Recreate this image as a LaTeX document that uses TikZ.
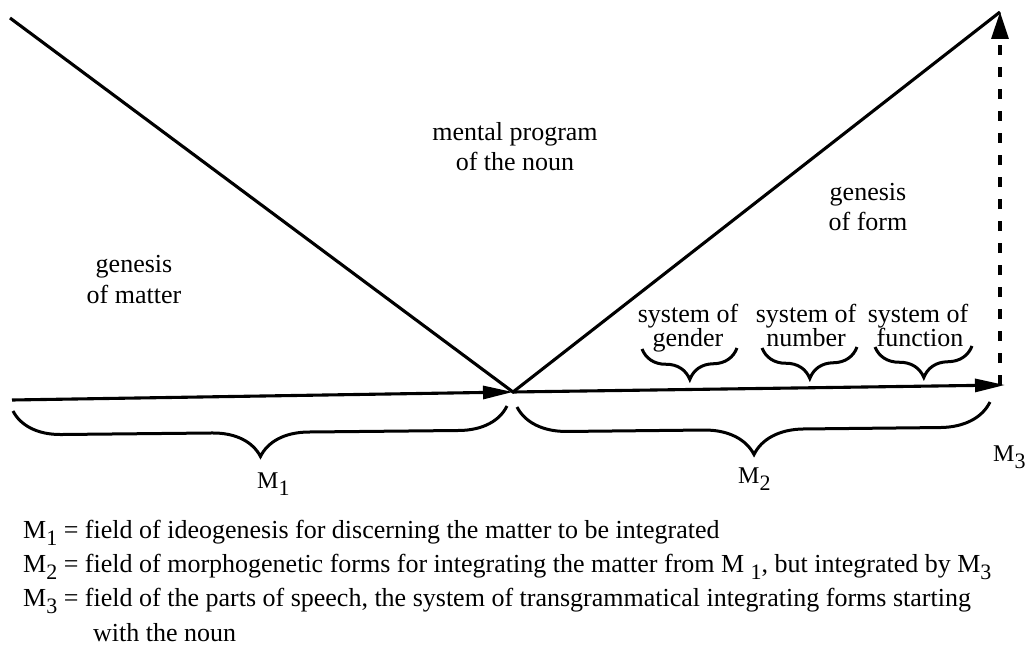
\documentclass[tikz,border=0pt]{standalone}
\usepackage{fontspec}
\setmainfont{Liberation Serif}
\usetikzlibrary{arrows.meta,decorations.pathreplacing}
\newcommand{\msub}[1]{\raisebox{-7pt}{\fontsize{22}{22}\selectfont #1}}
\begin{document}
\begin{tikzpicture}[x=1pt,y=-1pt,
  txt/.style={font=\fontsize{26}{31}\selectfont, inner sep=0pt},
  mlabel/.style={font=\fontsize{24}{28}\selectfont, inner sep=0pt, anchor=base west},
  mainline/.style={line width=3.1pt, line join=miter},
  bigtip/.style={-{Triangle[length=30pt,width=13pt]}},
  uptip/.style={-{Triangle[length=27pt,width=17pt]}},
  dashline/.style={line width=3.1pt, dash pattern=on 10pt off 12pt},
  bracedown/.style={decorate, decoration={brace, mirror, amplitude=#1}, line width=3pt}
]
\useasboundingbox (0,0) rectangle (1028,658);

% key points
\coordinate (A) at (10,18);
\coordinate (V) at (513,392);
\coordinate (T) at (1000,12);
\coordinate (L) at (12,400);
\coordinate (R) at (1005,385);
\coordinate (D) at (1000,385);

% V shape
\draw[mainline] (A) -- (V) -- (T);
% horizontal arrows
\draw[mainline, bigtip] (L) -- (V);
\draw[mainline, bigtip] (V) -- (R);
% dashed vertical arrow
\draw[dashline, uptip] (D) -- (T);

% braces
\coordinate (b1s) at (13,411);   \coordinate (b1e) at (507,406);
\coordinate (b2s) at (517,407);  \coordinate (b2e) at (990,402);
\coordinate (g1s) at (642,349);  \coordinate (g1e) at (737,348);
\coordinate (g2s) at (762,348);  \coordinate (g2e) at (857,347);
\coordinate (g3s) at (875,347);  \coordinate (g3e) at (972,346);
\draw[bracedown=48] (b1s) -- (b1e);
\draw[bracedown=50] (b2s) -- (b2e);
\draw[bracedown=31] (g1s) -- (g1e);
\draw[bracedown=31] (g2s) -- (g2e);
\draw[bracedown=31] (g3s) -- (g3e);

% diagram labels
\node[txt, anchor=base] (mp1) at (515,141) {mental program};
\node[txt, anchor=base] (mp2) at (515,171) {of the noun};
\node[txt, anchor=base] (gm1) at (134,272) {genesis};
\node[txt, anchor=base] (gm2) at (134,303) {of matter};
\node[txt, anchor=base] (gf1) at (868,200) {genesis};
\node[txt, anchor=base] (gf2) at (868,230) {of form};
\node[txt, anchor=base] (s1a) at (688,322) {system of};
\node[txt, anchor=base] (s1b) at (688,346) {gender};
\node[txt, anchor=base] (s2a) at (806,322) {system of};
\node[txt, anchor=base] (s2b) at (806,346) {number};
\node[txt, anchor=base] (s3a) at (918,322) {system of};
\node[txt, anchor=base] (s3b) at (920,346) {function};

\node[mlabel] (m1) at (257,488) {M\msub{1}};
\node[mlabel] (m2) at (738,483) {M\msub{2}};
\node[mlabel] (m3) at (993,461) {M\msub{3}};

% legend
\node[txt, anchor=base west] (l1) at (23,538) {M\msub{1} = field of ideogenesis for discerning the matter to be integrated};
\node[txt, anchor=base west] (l2) at (23,572) {M\msub{2} = field of morphogenetic forms for integrating the matter from M \msub{1}, but integrated by M\msub{3}};
\node[txt, anchor=base west] (l3) at (23,606) {M\msub{3} = field of the parts of speech, the system of transgrammatical integrating forms starting};
\node[txt, anchor=base west] (l4) at (93,641) {with the noun};
\end{tikzpicture}
\end{document}
